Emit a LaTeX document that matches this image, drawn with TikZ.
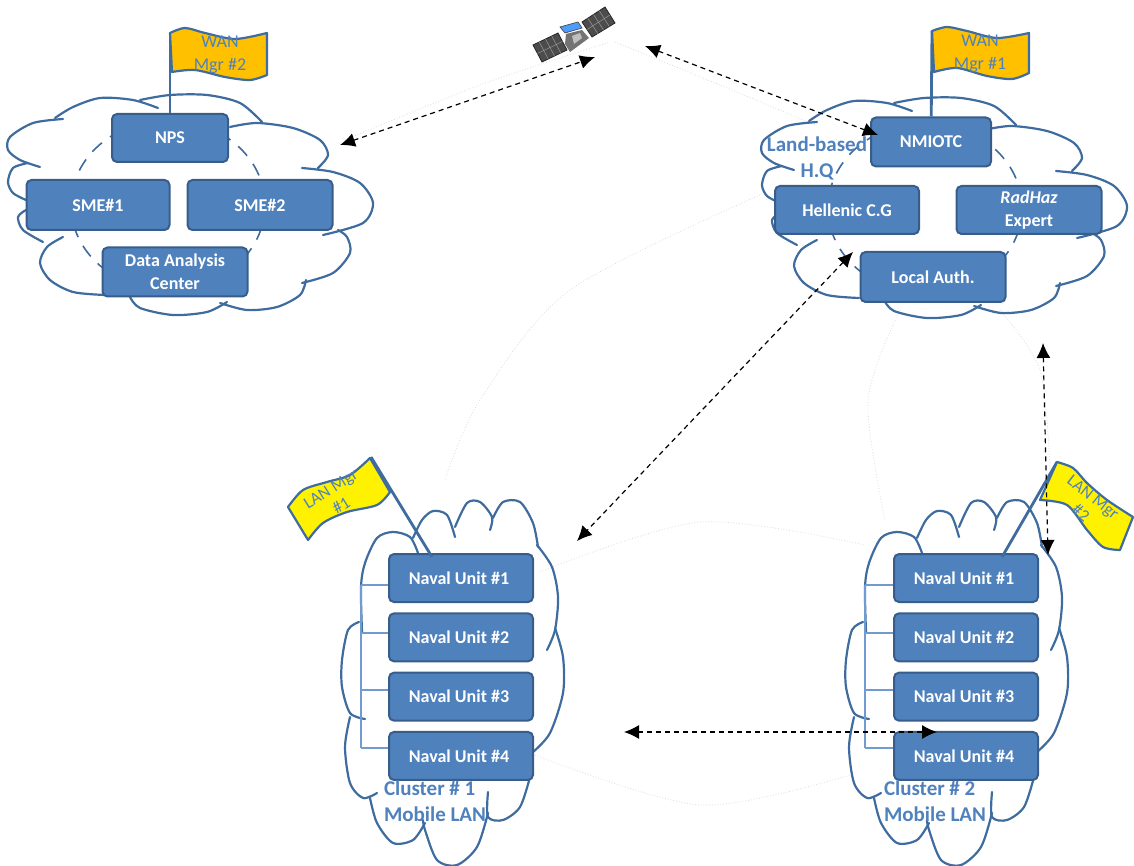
\documentclass[tikz,border=0pt]{standalone}
\usepackage{fontspec}
\setmainfont{Carlito}
\usetikzlibrary{matrix,calc,arrows.meta}
\definecolor{boxfill}{HTML}{4F81BD}
\definecolor{boxline}{HTML}{385D8A}
\definecolor{cloudline}{HTML}{3F6C9E}
\definecolor{busline}{HTML}{6F9BD1}
\definecolor{wanflag}{HTML}{FFC000}
\begin{document}
\begin{tikzpicture}[
		x=1pt,y=-1pt,
		unit/.style={
			draw=boxline,
			fill=boxfill,
			line width=2pt,
			rounded corners=5pt,
			text=white,
			font=\fontsize{18}{23}\selectfont\bfseries,
			align=center,
			inner sep=0pt
		},
		cluster/.style={
			matrix of nodes,
			nodes={
				unit,
				minimum width=144pt,
				minimum height=48pt
			},
			row sep=9.3pt,
			inner sep=0pt
		},
		label/.style={
			text=boxfill,
			font=\fontsize{21}{26}\selectfont\bfseries,
			align=center,
			inner sep=0pt
		},
		flagtext/.style={
			text=boxfill,
			font=\fontsize{18}{23}\selectfont,
			align=center,
			inner sep=0pt
		},
		outline/.style={draw=cloudline,line width=2.2pt,line cap=round},
		flagline/.style={draw=cloudline,line width=2.2pt,line join=round},
		pole/.style={draw=cloudline,line width=2.8pt},
		bus/.style={draw=busline,line width=1.1pt},
		ring/.style={draw=cloudline,line width=1.6pt,dash pattern=on 13pt off 10pt},
		link/.style={<->,>={Latex[length=15pt,width=14pt]},line width=1.2pt,dash pattern=on 5pt off 4pt},
		faint/.style={draw=black!14,line width=.8pt,dotted},
		wancloud/.pic={
			\draw[outline] plot[smooth] coordinates {(158,108) (133,100) (100,98) (73,107) (55,118)};
			\draw[outline] plot[smooth] coordinates {(63,119) (33,123) (10,137) (8,150) (20,160) (40,167)};
			\draw[outline] plot[smooth] coordinates {(28,163) (13,168) (8,182) (13,193) (26,200)};
			\draw[outline] plot[smooth] coordinates {(26,210) (18,217) (23,230) (43,242)};
			\draw[outline] plot[smooth] coordinates {(63,237) (47,247) (40,263) (50,280) (73,292) (105,295)};
			\draw[outline] plot[smooth] coordinates {(130,297) (140,308) (173,315) (207,312) (227,302)};
			\draw[outline] plot[smooth] coordinates {(220,303) (247,310) (277,307) (300,295) (306,280)};
			\draw[outline] plot[smooth] coordinates {(302,283) (333,273) (350,253) (347,237) (338,230)};
			\draw[outline] plot[smooth] coordinates {(302,168) (333,172) (360,183) (373,203) (363,223) (323,235)};
			\draw[outline] plot[smooth] coordinates {(230,127) (257,123) (293,128) (320,140) (328,155) (318,168)};
			\draw[outline] plot[smooth] coordinates {(140,100) (170,95) (207,95) (240,103) (262,122)};
		},
		lancloud/.pic={
			\draw[outline] plot[smooth] coordinates {(418,553) (410,537) (393,532) (377,538) (365,563) (361,587) (362,632)};
			\draw[outline] plot[smooth] coordinates {(413,538) (422,520) (433,511) (447,515) (455,537)};
			\draw[outline] plot[smooth] coordinates {(455,527) (467,503) (480,502) (492,517) (490,530)};
			\draw[outline] plot[smooth] coordinates {(493,518) (503,502) (520,502) (533,523) (538,547)};
			\draw[outline] plot[smooth] coordinates {(537,545) (552,567) (558,597) (555,630) (547,650)};
			\draw[outline] plot[smooth] coordinates {(555,628) (563,657) (563,693) (550,733) (533,752)};
			\draw[outline] plot[smooth] coordinates {(530,777) (520,807) (503,820) (488,817) (488,792)};
			\draw[outline] plot[smooth] coordinates {(488,813) (477,847) (457,865) (437,860) (425,830) (423,820)};
			\draw[outline] plot[smooth] coordinates {(425,823) (413,840) (393,843) (377,823) (370,798)};
			\draw[outline] plot[smooth] coordinates {(377,793) (363,798) (350,783) (345,747) (350,717)};
			\draw[outline] plot[smooth] coordinates {(365,719) (350,713) (342,687) (342,660) (348,630) (359,622)};
		}
		]
		\useasboundingbox (0,0) rectangle (1134,866);

		% faint traces
		\draw[faint] plot[smooth] coordinates {(345,140) (480,85) (610,42)};
		\draw[faint] plot[smooth] coordinates {(615,42) (720,85) (815,125)};
		\draw[faint] plot[smooth] coordinates {(760,195) (570,290) (480,400) (445,480)};
		\draw[faint] plot[smooth] coordinates {(900,310) (868,400) (885,520)};
		\draw[faint] plot[smooth] coordinates {(1000,310) (1040,370) (1050,470)};
		\draw[faint] plot[smooth] coordinates {(540,572) (700,522) (865,545)};
		\draw[faint] plot[smooth] coordinates {(535,755) (700,805) (850,775)};

		% clouds
		\draw[ring] (168,205) ellipse (97 and 85);
		\draw[ring] (925,208) ellipse (97 and 85);
		\pic at (0,0) {wancloud};
		\pic at (754,3) {wancloud};
		\pic at (0,0) {lancloud};
		\pic at (504,0) {lancloud};

		% land-based nodes
		\node[unit,minimum width=116pt,minimum height=48pt] (nps) at (170,138) {NPS};
		\node[unit,minimum width=143pt,minimum height=50pt] (smeone) at (98,205) {SME\#1};
		\node[unit,minimum width=145pt,minimum height=50pt] (smetwo) at (260,205) {SME\#2};
		\node[unit,minimum width=145pt,minimum height=49pt] (dac) at (175,272) {Data Analysis\\Center};
		\node[unit,minimum width=120pt,minimum height=49pt] (nmiotc) at (931,142) {NMIOTC};
		\node[unit,minimum width=144pt,minimum height=48pt] (hellenic) at (847,210) {Hellenic C.G};
		\node[unit,minimum width=145pt,minimum height=48pt] (radhaz) at (1029,210) {\textit{RadHaz}\\Expert};
		\node[unit,minimum width=145pt,minimum height=50pt] (localauth) at (933,277) {Local Auth.};

		% naval units
		\matrix[cluster] (mat1) at (461,667)
		{
			Naval Unit \#1 \\
			Naval Unit \#2 \\
			Naval Unit \#3 \\
			Naval Unit \#4 \\
		};
		\matrix[cluster] (mat2) at (966,667)
		{
			Naval Unit \#1 \\
			Naval Unit \#2 \\
			Naval Unit \#3 \\
			Naval Unit \#4 \\
		};
		\foreach \mi/\bx in {1/361,2/865}
			{
			\coordinate (bustop\mi) at (\bx,585);
			\coordinate (busend\mi) at (\bx,748);
			\draw[bus] (bustop\mi) -- (busend\mi);
			\foreach \ai/\ay in {1/585,2/633,3/690,4/748}
				\draw[bus] (\bx,\ay) -- (mat\mi-\ai-1.west |- 0,\ay);
			}

		% flags
		\coordinate (wanpeak2) at (170,33);
		\coordinate (wanpeak1) at (932,31);
		\draw[pole] (wanpeak2) -- (nps);
		\draw[pole] (wanpeak1) -- (nmiotc);
		\draw[flagline,fill=wanflag] plot[smooth] coordinates {(170,33) (185,28) (205,33) (235,39) (267,33)} -- plot[smooth] coordinates {(267,75) (250,80) (225,77) (195,70) (172,72)} -- cycle;
		\draw[flagline,fill=wanflag] plot[smooth] coordinates {(932,31) (947,27) (967,31) (997,38) (1029,33)} -- plot[smooth] coordinates {(1029,73) (1012,79) (987,76) (957,68) (934,72)} -- cycle;
		\node[flagtext] (wanmgr2) at (220,55) {WAN\\Mgr \#2};
		\node[flagtext] (wanmgr1) at (980,54) {WAN\\Mgr \#1};

		\coordinate (lanpeak1) at (371,457);
		\coordinate (lanfoot1) at (432,557);
		\coordinate (lanpeak2) at (1057,462);
		\coordinate (lanfoot2) at (1002,557);
		\draw[pole] (lanpeak1) -- (lanfoot1);
		\draw[pole] (lanpeak2) -- (lanfoot2);
		\draw[flagline,fill=yellow] plot[smooth] coordinates {(370,458) (350,475) (327,482) (303,490) (288,507)} -- plot[smooth] coordinates {(308,540) (323,523) (347,512) (377,505) (390,492)} -- cycle;
		\draw[flagline,fill=yellow] plot[smooth] coordinates {(1057,462) (1073,468) (1087,483) (1107,500) (1133,517)} -- plot[smooth] coordinates {(1120,550) (1103,547) (1087,530) (1067,505) (1040,500)} -- cycle;
		\node[flagtext,rotate=32,font=\fontsize{17}{20}\selectfont] (lanmgr1) at (336,497) {LAN Mgr\\\#1};
		\node[flagtext,rotate=-38,font=\fontsize{17}{20}\selectfont] (lanmgr2) at (1087,505) {LAN Mgr\\\#2};

		% satellite
		\foreach \px/\py/\qx/\qy/\rx/\ry/\sx/\sy in {533/45/558/33/567/50/542/62,582/22/605/7/615/23/592/37}
			{
			\fill[black!70,draw=black!85,line width=.8pt] (\px,\py) -- (\qx,\qy) -- (\rx,\ry) -- (\sx,\sy) -- cycle;
			\foreach \t in {0.25,0.5,0.75}
				\draw[black!40,line width=.5pt] ($(\px,\py)!\t!(\qx,\qy)$) -- ($(\sx,\sy)!\t!(\rx,\ry)$);
			\draw[black!40,line width=.5pt] ($(\px,\py)!.5!(\sx,\sy)$) -- ($(\qx,\qy)!.5!(\rx,\ry)$);
			}
		\fill[black!55] (566,34) -- (582,30) -- (589,38) -- (570,52) -- (565,44) -- cycle;
		\fill[black!25] (572,36) -- (580,33) -- (582,38) -- (574,44) -- cycle;
		\fill[blue!55!cyan!70,draw=black!70,line width=.7pt] (560,27) -- (578,22) -- (582,28) -- (565,33) -- cycle;

		% captions
		\node[label] (landhq) at (817,158) {Land-based\\H.Q};
		\node[label,align=left] (clustera) at (435,801) {Cluster \# 1\\Mobile LAN};
		\node[label,align=left] (clusterb) at (935,801) {Cluster \# 2\\Mobile LAN};

		% dashed links
		\coordinate (satleft) at (595,57);
		\coordinate (satright) at (645,46);
		\coordinate (wanleft) at (340,145);
		\coordinate (wanright) at (878,135);
		\coordinate (hqend) at (853,252);
		\coordinate (lanone) at (577,541);
		\coordinate (hqdown) at (1043,343);
		\coordinate (lantwo) at (1048,555);
		\coordinate (peerone) at (624,732);
		\coordinate (peertwo) at (937,732);
		\draw[link] (wanleft) -- (satleft);
		\draw[link] (satright) -- (wanright);
		\draw[link] (hqend) -- (lanone);
		\draw[link] (hqdown) -- (lantwo);
		\draw[link] (peerone) -- (peertwo);
\end{tikzpicture}
\end{document}
